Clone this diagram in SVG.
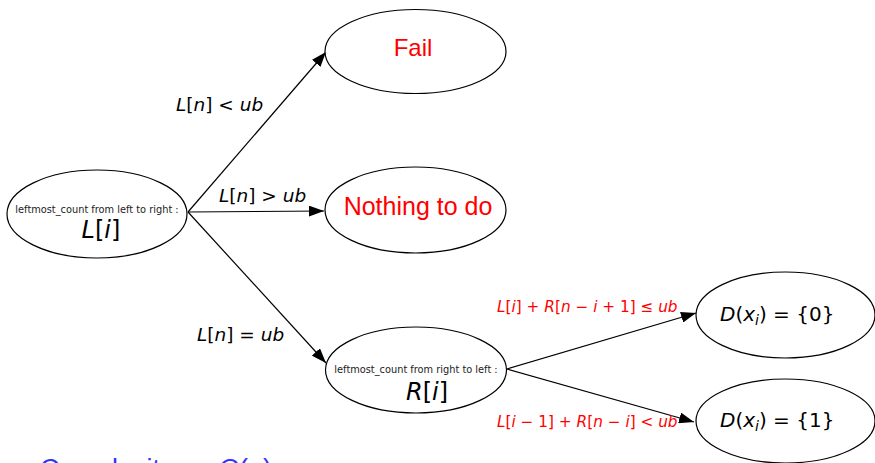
<svg xmlns="http://www.w3.org/2000/svg" width="875" height="463" viewBox="0 0 875 463">
<defs>
<marker id="arr" markerUnits="userSpaceOnUse" markerWidth="15" markerHeight="11" refX="15" refY="5.5" orient="auto">
<path d="M0,0 L15,5.5 L0,11 z" fill="#000"/>
</marker>
<style>
.node ellipse{fill:#fff;stroke:#000;stroke-width:1.2}
.edge{stroke:#000;stroke-width:1.2;fill:none;marker-end:url(#arr)}
.m{font-family:"DejaVu Sans",sans-serif;fill:#000}
.i{font-style:italic}
.red{fill:#ff0000}
.small{font-family:"DejaVu Sans",sans-serif;font-size:9.8px;fill:#222}
.word{font-family:"Liberation Sans",sans-serif;fill:#ff0000}
</style>
</defs>
<rect width="875" height="463" fill="#fff"/>
<g id="connectors">
<line class="edge" x1="188" y1="212" x2="326" y2="52"/>
<line class="edge" x1="188" y1="212" x2="324" y2="211"/>
<line class="edge" x1="188" y1="212" x2="326" y2="363"/>
<line class="edge" x1="507" y1="369" x2="696" y2="313"/>
<line class="edge" x1="507" y1="369" x2="694" y2="422"/>
<text class="m" x="176" y="111" font-size="18.5"><tspan class="i">L</tspan>[<tspan class="i">n</tspan>] &lt; <tspan class="i">ub</tspan></text>
<text class="m" x="219" y="202" font-size="18.5"><tspan class="i">L</tspan>[<tspan class="i">n</tspan>] &gt; <tspan class="i">ub</tspan></text>
<text class="m" x="197" y="341" font-size="18.5"><tspan class="i">L</tspan>[<tspan class="i">n</tspan>] = <tspan class="i">ub</tspan></text>
<text class="m red" x="497" y="312" font-size="15.3"><tspan class="i">L</tspan>[<tspan class="i">i</tspan>] + <tspan class="i">R</tspan>[<tspan class="i">n</tspan> − <tspan class="i">i</tspan> + 1] ≤ <tspan class="i">ub</tspan></text>
<text class="m red" x="497" y="427" font-size="15.3"><tspan class="i">L</tspan>[<tspan class="i">i</tspan> − 1] + <tspan class="i">R</tspan>[<tspan class="i">n</tspan> − <tspan class="i">i</tspan>] &lt; <tspan class="i">ub</tspan></text>
</g>
<g id="node-left" class="node">
<ellipse cx="97" cy="214" rx="90" ry="44"/>
<text class="small" x="97" y="213" text-anchor="middle">leftmost_count from left to right :</text>
<text class="m" x="101" y="238" font-size="24" text-anchor="middle"><tspan class="i">L</tspan>[<tspan class="i">i</tspan>]</text>
</g>
<g id="node-fail" class="node">
<ellipse cx="415.5" cy="51.5" rx="90.5" ry="42"/>
<text class="word" x="413" y="56" font-size="24" text-anchor="middle">Fail</text>
</g>
<g id="node-nothing" class="node">
<ellipse cx="415.5" cy="210" rx="90.5" ry="43"/>
<text class="word" x="418" y="215" font-size="25" text-anchor="middle">Nothing to do</text>
</g>
<g id="node-right" class="node">
<ellipse cx="416" cy="370" rx="90.5" ry="43"/>
<text class="small" x="416" y="373" text-anchor="middle">leftmost_count from right to left :</text>
<text class="m" x="427" y="400" font-size="24" text-anchor="middle"><tspan class="i">R</tspan>[<tspan class="i">i</tspan>]</text>
</g>
<g id="node-d0" class="node">
<ellipse cx="785.5" cy="315" rx="89.5" ry="43"/>
<text class="m" x="720" y="321" font-size="20"><tspan class="i">D</tspan>(<tspan class="i">x</tspan><tspan class="i" font-size="14" dy="4">i</tspan><tspan dy="-4">) = {0}</tspan></text>
</g>
<g id="node-d1" class="node">
<ellipse cx="785.5" cy="421" rx="89.5" ry="42"/>
<text class="m" x="720" y="427" font-size="20"><tspan class="i">D</tspan>(<tspan class="i">x</tspan><tspan class="i" font-size="14" dy="4">i</tspan><tspan dy="-4">) = {1}</tspan></text>
</g>
<text x="14" y="478" font-family="Liberation Sans, sans-serif" font-size="27" fill="#3333ff"><tspan font-size="16">▸</tspan><tspan x="40">Complexity :</tspan><tspan x="218" class="i">O</tspan>(<tspan class="i">n</tspan>)</text>
</svg>
